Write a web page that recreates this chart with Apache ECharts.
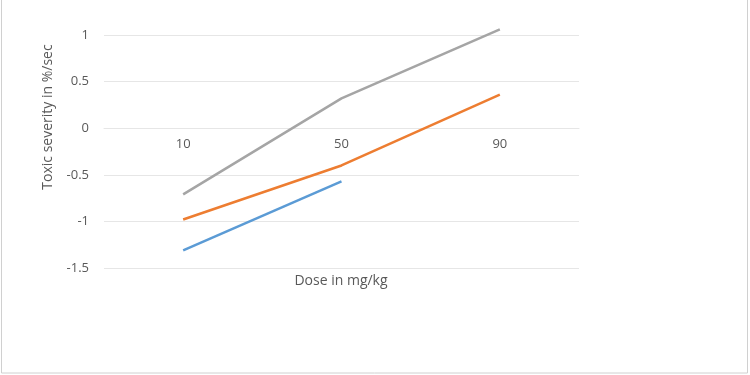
<!DOCTYPE html>
<html>
<head>
<meta charset="utf-8">
<script src="https://cdn.jsdelivr.net/npm/echarts@6/dist/echarts.min.js"></script>
<style>html,body{margin:0;padding:0;background:#fff}#c{width:750px;height:375px}</style>
</head>
<body>
<div id="c"></div>
<script>
const categories = ['10', '50', '90'];
const seriesBlue = [-1.31, -0.57, null];
const seriesOrange = [-0.98, -0.40, 0.36];
const seriesGray = [-0.71, 0.32, 1.06];
const yTicks = { min: -1.5, max: 1, interval: 0.5 };

const chart = echarts.init(document.getElementById('c'), null, { renderer: 'canvas' });
const font = '"Open Sans", "Liberation Sans", sans-serif';
chart.setOption({
  animation: false,
  grid: { left: 104, right: 171, top: 35, bottom: 107 },
  xAxis: {
    type: 'category',
    data: categories,
    boundaryGap: true,
    offset: -140,
    axisLine: { show: true, onZero: false, lineStyle: { color: '#e6e6e6', width: 1 } },
    axisTick: { show: false },
    axisLabel: { color: '#595959', fontSize: 13, fontFamily: font, margin: 10 },
    splitLine: { show: false }
  },
  yAxis: {
    type: 'value',
    min: yTicks.min, max: yTicks.max, interval: yTicks.interval,
    axisLine: { show: false },
    axisTick: { show: false },
    axisLabel: { color: '#595959', fontSize: 13, fontFamily: font, margin: 15 },
    splitLine: { lineStyle: { color: '#e6e6e6', width: 1 } }
  },
  series: [
    { type: 'line', clip: false, data: seriesBlue, symbol: 'none', lineStyle: { color: '#5B9BD5', width: 2.5 }, itemStyle: { color: '#5B9BD5' } },
    { type: 'line', clip: false, data: seriesOrange, symbol: 'none', lineStyle: { color: '#ED7D31', width: 2.5 }, itemStyle: { color: '#ED7D31' } },
    { type: 'line', clip: false, data: seriesGray, symbol: 'none', lineStyle: { color: '#A5A5A5', width: 2.5 }, itemStyle: { color: '#A5A5A5' } }
  ],
  graphic: [
    { type: 'rect', shape: { x: 1.5, y: -2, width: 746, height: 375 }, style: { fill: 'none', stroke: '#d0d0d0', lineWidth: 1 }, silent: true },
    { type: 'text', x: 341, y: 281, style: { text: 'Dose in mg/kg', fill: '#595959', font: '14px ' + font, textAlign: 'center', textVerticalAlign: 'middle' } },
    { type: 'text', x: 48, y: 117, rotation: Math.PI / 2, style: { text: 'Toxic severity in %/sec', fill: '#595959', font: '14px ' + font, textAlign: 'center', textVerticalAlign: 'middle' } }
  ]
});
</script>
</body>
</html>
